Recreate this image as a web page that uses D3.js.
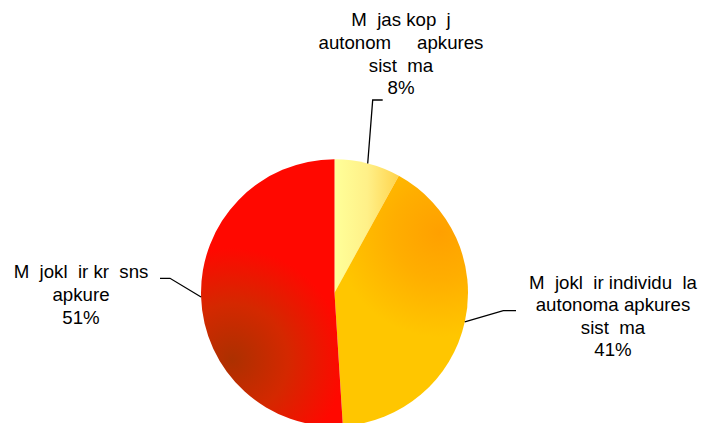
<!DOCTYPE html>
<html><head><meta charset="utf-8">
<script src="https://cdn.jsdelivr.net/npm/d3@7"></script>
<style>
html,body{margin:0;padding:0;background:#fff;}
svg{display:block;}
text{font-family:"Liberation Sans",Arial,sans-serif;font-size:18.67px;fill:#000;white-space:pre;}
</style></head>
<body>
<script>
// Data (labels shown as rendered in the reference: missing glyphs appear as blanks)
const categories = [
  ["M  jas kop  j", "autonom     apkures", "sist  ma"],
  ["M  jokl  ir individu  la", "autonoma apkures", "sist  ma"],
  ["M  jokl  ir kr  sns", "apkure"]
];
const values = [8, 41, 51];
const percentLabels = ["8%", "41%", "51%"];

const W = 707, H = 423;
const cx = 334.5, cy = 292.8, R = 133.5;

const svg = d3.select("body").append("svg").attr("width", W).attr("height", H);
const defs = svg.append("defs");

// gradients (approximating the Excel gradient fills); coordinates relative to pie centre
const g0 = defs.append("linearGradient").attr("id","g0").attr("gradientUnits","userSpaceOnUse")
  .attr("x1",335-cx).attr("y1",0).attr("x2",400-cx).attr("y2",0);
g0.append("stop").attr("offset",0).attr("stop-color","#FFFF99");
g0.append("stop").attr("offset",0.5).attr("stop-color","#FFF088");
g0.append("stop").attr("offset",1).attr("stop-color","#FFD24A");

const g1 = defs.append("radialGradient").attr("id","g1").attr("gradientUnits","userSpaceOnUse")
  .attr("cx",440-cx).attr("cy",232-cy).attr("r",105);
g1.append("stop").attr("offset",0).attr("stop-color","#FFA000");
g1.append("stop").attr("offset",0.45).attr("stop-color","#FFAE00");
g1.append("stop").attr("offset",1).attr("stop-color","#FFC600");

const g2 = defs.append("radialGradient").attr("id","g2").attr("gradientUnits","userSpaceOnUse")
  .attr("cx",232-cx).attr("cy",360-cy).attr("r",112);
g2.append("stop").attr("offset",0).attr("stop-color","#AC3000");
g2.append("stop").attr("offset",0.5).attr("stop-color","#D42800");
g2.append("stop").attr("offset",1).attr("stop-color","#FF0800");

const fills = ["url(#g0)", "url(#g1)", "url(#g2)"];

const pie = d3.pie().sort(null).value(d => d).startAngle(0).endAngle(2*Math.PI);
const arcs = pie(values);
const arc = d3.arc().innerRadius(0).outerRadius(R);

const g = svg.append("g").attr("transform", `translate(${cx},${cy})`);
g.selectAll("path").data(arcs).enter().append("path")
  .attr("d", arc).attr("fill", (d,i) => fills[i]);

// label layout: leader bend/end points and text block placement
const leaderBend = [[372.7,100],[503.3,310.7],[170,278.3]];
const leaderEnd  = [[382.7,100],[516,310.7],[160,278.3]];
const labelX = [401, 613, 81];
const labelY0 = [26.3, 288.5, 278.3];
const lineH = 22.6;

arcs.forEach((a,i) => {
  const mid = (a.startAngle + a.endAngle)/2;
  const ex = cx + R*Math.sin(mid), ey = cy - R*Math.cos(mid);
  svg.append("polyline")
    .attr("points", [[ex,ey], leaderBend[i], leaderEnd[i]].map(p=>p.join(",")).join(" "))
    .attr("fill","none").attr("stroke","#000").attr("stroke-width",1.3);
  const lines = categories[i].concat([percentLabels[i]]);
  const t = svg.append("text").attr("text-anchor","middle");
  lines.forEach((ln,k) => {
    t.append("tspan").attr("x", labelX[i]).attr("y", labelY0[i] + k*lineH).text(ln);
  });
});
</script>
</body></html>
